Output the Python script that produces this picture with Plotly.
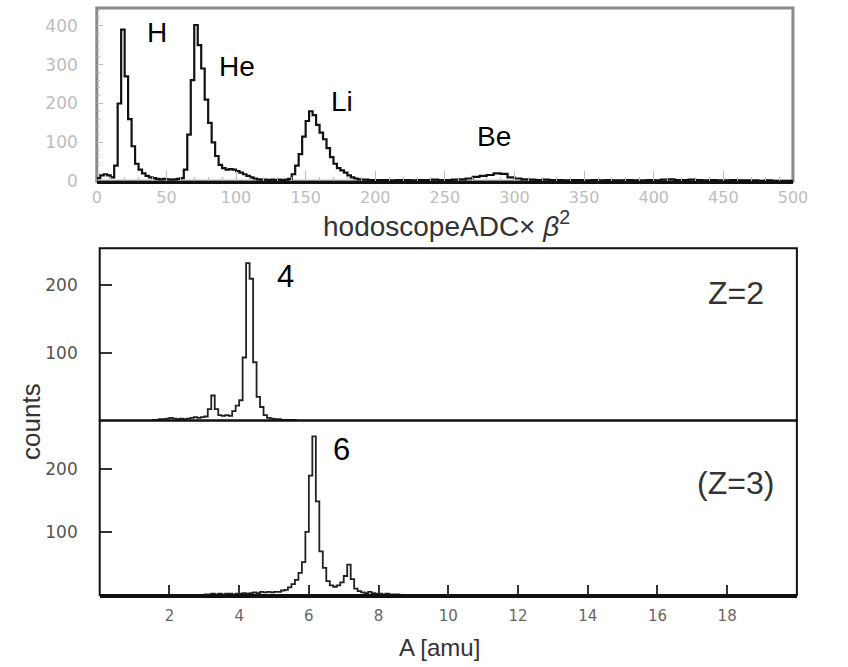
import numpy as np
import plotly.graph_objects as go

# ---- hodoscope ADC x beta^2 spectrum (counts per bin) ----
adc_fine_start, adc_fine_width = 0.0, 2.5
adc_fine_counts = [
    8, 15, 18, 15, 10, 40, 200, 390, 270, 160,
    90, 45, 30, 20, 14, 10, 8, 6, 5, 6,
    5, 4, 5, 6, 8, 30, 120, 260, 402, 350,
    290, 210, 150, 100, 65, 42, 34, 30, 31, 30,
    26, 22, 18, 14, 10, 7, 5, 4, 4, 3,
    4, 3, 4, 3, 4, 6, 18, 40, 70, 115,
    155, 180, 170, 145, 125, 108, 85, 62, 45, 34,
    28, 22, 15, 10, 7, 5, 4, 4, 3, 3,
]
adc_coarse_start, adc_coarse_width = 200.0, 5.0
adc_coarse_counts = [
    3, 3, 2, 3, 3, 2, 3, 3, 4, 3,
    3, 4, 5, 7, 11, 14, 16, 20, 19, 10,
    7, 5, 4, 3, 4, 3, 3, 2, 3, 3,
    2, 3, 2, 3, 2, 2, 3, 2, 2, 3,
    2, 4, 5, 3, 3, 4, 3, 2, 3, 2,
    2, 3, 2, 2, 2, 1, 2, 1, 1, 1,
]

# ---- mass spectra, 0.1 amu bins ----
z2_start, z2_width = 1.5, 0.1
z2_counts = [
    1, 1, 2, 2, 3, 4, 3, 2, 3, 2,
    3, 4, 5, 4, 5, 6, 17, 37, 17, 8,
    7, 8, 7, 14, 22, 30, 93, 232, 209, 86,
    35, 20, 8, 4, 3, 2, 2, 1, 1, 1,
    1, 0,
]
z3_start, z3_width = 3.0, 0.1
z3_counts = [
    1, 1, 2, 1, 2, 1, 2, 2, 1, 2,
    2, 3, 2, 3, 4, 3, 5, 4, 5, 4,
    5, 5, 7, 8, 12, 17, 24, 35, 52, 100,
    189, 251, 148, 69, 43, 22, 15, 13, 15, 20,
    30, 48, 25, 10, 6, 4, 3, 5, 3, 2,
    2, 1, 2, 1, 1, 1, 0,
]

adc_ticks = [0, 50, 100, 150, 200, 250, 300, 350, 400, 450, 500]
adc_count_ticks = [0, 100, 200, 300, 400]
mass_ticks = [2, 4, 6, 8, 10, 12, 14, 16, 18]
mass_count_ticks = [100, 200]

element_labels = [("H", 43, 382), ("He", 101, 296), ("Li", 176, 205), ("Be", 285, 114)]


def steps(start, width, counts):
    edges = start + width * np.arange(len(counts) + 1)
    return edges, list(counts) + [counts[-1]]


x_f, y_f = steps(adc_fine_start, adc_fine_width, adc_fine_counts)
x_c, y_c = steps(adc_coarse_start, adc_coarse_width, adc_coarse_counts)
adc_x = np.concatenate([x_f[:-1], x_c])
adc_y = adc_fine_counts + y_c

z2_x, z2_y = steps(z2_start, z2_width, z2_counts)
z3_x, z3_y = steps(z3_start, z3_width, z3_counts)

W, H = 848, 667
FONT = "Liberation Sans, Arial, sans-serif"
TICKFONT = "DejaVu Sans, sans-serif"

fig = go.Figure()
fig.add_trace(go.Scatter(x=adc_x, y=adc_y, mode="lines", line_shape="hv",
                         line=dict(color="#111", width=2.2), xaxis="x", yaxis="y",
                         showlegend=False, hoverinfo="skip"))
fig.add_trace(go.Scatter(x=z2_x, y=z2_y, mode="lines", line_shape="hv",
                         line=dict(color="#222", width=1.8), xaxis="x2", yaxis="y2",
                         showlegend=False, hoverinfo="skip"))
fig.add_trace(go.Scatter(x=z3_x, y=z3_y, mode="lines", line_shape="hv",
                         line=dict(color="#222", width=1.8), xaxis="x3", yaxis="y3",
                         showlegend=False, hoverinfo="skip"))

# panel geometry in paper fractions
top_x = [94 / W, 807 / W]
top_y = [(H - 184) / H, (H - 8) / H]
low_x = [97 / W, 811 / W]
mid_y = [(H - 427) / H, (H - 252) / H]
bot_y = [(H - 604) / H, (H - 427) / H]

light = "#bdbdbd"
dark = "#555"

fig.update_layout(
    width=W, height=H, margin=dict(l=0, r=0, t=0, b=0),
    paper_bgcolor="white", plot_bgcolor="white",
    font=dict(family=FONT, color="#222"),
    xaxis=dict(domain=top_x, range=[0, 500], anchor="y", showgrid=False, zeroline=False,
               showline=True, linecolor="#111", linewidth=3,
               tickmode="array", tickvals=adc_ticks, ticks="inside", ticklen=10,
               tickcolor=light, tickwidth=1,
               tickfont=dict(family=TICKFONT, size=16, color=light),
               minor=dict(ticks="inside", ticklen=4, dtick=10, tickcolor=light)),
    yaxis=dict(domain=top_y, range=[0, 446], anchor="x", showgrid=False, zeroline=False,
               showline=False, tickmode="array", tickvals=adc_count_ticks,
               ticks="inside", ticklen=6, tickcolor=light, ticklabelstandoff=18,
               tickfont=dict(family=TICKFONT, size=17, color=light),
               minor=dict(ticks="inside", ticklen=3, dtick=20, tickcolor=light)),
    xaxis2=dict(domain=low_x, range=[0, 20], anchor="y2", showgrid=False, zeroline=False,
                showline=False, showticklabels=False, ticks=""),
    yaxis2=dict(domain=mid_y, range=[0, 254], anchor="x2", showgrid=False, zeroline=False,
                showline=False, tickmode="array", tickvals=mass_count_ticks,
                ticks="inside", ticklen=12, tickwidth=2, tickcolor="#333",
                ticklabelstandoff=21, tickfont=dict(family=TICKFONT, size=17, color=dark)),
    xaxis3=dict(domain=low_x, range=[0, 20], anchor="y3", showgrid=False, zeroline=False,
                showline=True, linecolor="#111", linewidth=3,
                tickmode="array", tickvals=mass_ticks, ticklabelstandoff=5,
                ticks="inside", ticklen=10, tickwidth=2, tickcolor="#333",
                tickfont=dict(family=TICKFONT, size=15, color="#666")),
    yaxis3=dict(domain=bot_y, range=[0, 276], anchor="x3", showgrid=False, zeroline=False,
                showline=False, tickmode="array", tickvals=mass_count_ticks,
                ticks="inside", ticklen=12, tickwidth=2, tickcolor="#333",
                ticklabelstandoff=21, tickfont=dict(family=TICKFONT, size=17, color=dark)),
)

# frames
fig.add_shape(type="rect", xref="paper", yref="paper", x0=top_x[0], x1=top_x[1],
              y0=top_y[0], y1=top_y[1], line=dict(color="#8a8a8a", width=3), layer="below")
for dom in (mid_y, bot_y):
    fig.add_shape(type="rect", xref="paper", yref="paper", x0=low_x[0], x1=low_x[1],
                  y0=dom[0], y1=dom[1], line=dict(color="#111", width=2), layer="above")

annotations = []
for text, xv, yv in element_labels:
    annotations.append(dict(x=xv, y=yv, xref="x", yref="y", text=text, showarrow=False,
                            xanchor="center", yanchor="middle",
                            font=dict(size=28, color="#000")))
annotations += [
    dict(x=5.32, y=213, xref="x2", yref="y2", text="4", showarrow=False,
         xanchor="center", yanchor="middle", font=dict(size=31, color="#000")),
    dict(x=18.24, y=188, xref="x2", yref="y2", text="Z=2", showarrow=False,
         xanchor="center", yanchor="middle", font=dict(size=32, color="#333")),
    dict(x=6.95, y=231, xref="x3", yref="y3", text="6", showarrow=False,
         xanchor="center", yanchor="middle", font=dict(size=31, color="#000")),
    dict(x=18.24, y=178, xref="x3", yref="y3", text="(Z=3)", showarrow=False,
         xanchor="center", yanchor="middle", font=dict(size=32, color="#333")),
    dict(x=452 / W, y=(H - 227) / H, xref="paper", yref="paper", showarrow=False,
         xanchor="center", yanchor="middle",
         text="hodoscopeADC× <i>β</i><sup>2</sup>", font=dict(size=28, color="#333")),
    dict(x=445 / W, y=(H - 657) / H, xref="paper", yref="paper", showarrow=False,
         xanchor="center", yanchor="middle",
         text="A [amu]", font=dict(size=24, color="#333")),
    dict(x=26 / W, y=(H - 428) / H, xref="paper", yref="paper", showarrow=False,
         xanchor="center", yanchor="middle",
         text="counts", textangle=-90, font=dict(size=26, color="#333")),
]
fig.update_layout(annotations=annotations)

fig.write_html("out.html")
